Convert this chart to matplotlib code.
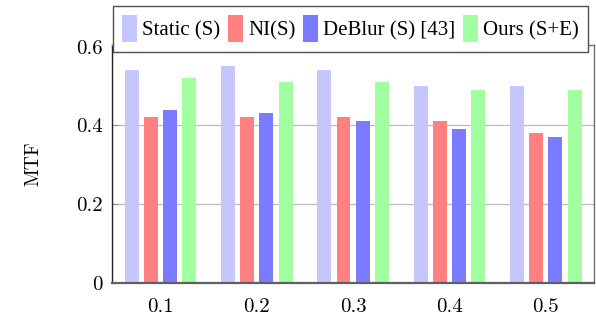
import matplotlib
matplotlib.use("Agg")
import matplotlib.pyplot as plt
import numpy as np

# Blur levels on the x axis and MTF per method
blur_levels = [0.1, 0.2, 0.3, 0.4, 0.5]
tick_labels = ["0.1", "0.2", "0.3", "0.4", "0.5"]
static_s = [0.54, 0.55, 0.54, 0.50, 0.50]
ni_s = [0.42, 0.42, 0.42, 0.41, 0.38]
deblur_s = [0.44, 0.43, 0.41, 0.39, 0.37]
ours_se = [0.52, 0.51, 0.51, 0.49, 0.49]

series_names = ["Static (S)", "NI(S)", "DeBlur (S) [43]", "Ours (S+E)"]
series_values = [static_s, ni_s, deblur_s, ours_se]
series_colors = ["#c6c6ff", "#ff8080", "#7b7bff", "#a2ffa0"]

plt.rcParams["font.family"] = ["cmr10", "DejaVu Serif"]
plt.rcParams["axes.formatter.use_mathtext"] = True

fig = plt.figure(figsize=(5.96, 3.24), dpi=100)
ax = fig.add_axes([0.1884, 0.1275, 0.9966 - 0.1884, (324 - 45) / 324 - 0.1275])

x = np.array(blur_levels)
step = 0.02
width = 0.0145
handles = []
for i, (name, vals, col) in enumerate(zip(series_names, series_values, series_colors)):
    h = ax.bar(x + (i - 1.5) * step, vals, width=width, color=col,
               edgecolor="none", label=name, zorder=2)
    handles.append(h)

ax.set_xlim(0.05, 0.55)
ax.set_ylim(0, 0.604)
ax.set_xticks(blur_levels)
ax.set_xticklabels(tick_labels)
ax.set_yticks([0, 0.2, 0.4, 0.6])
ax.set_yticklabels(["0", "0.2", "0.4", "0.6"])
ax.tick_params(axis="x", length=0, pad=11, labelsize=15)
ax.tick_params(axis="y", direction="in", length=4, width=0.6, color="#808080",
               pad=7, labelsize=15)
ax.yaxis.grid(True, color="#bdbdbd", linewidth=0.9, zorder=0)
gl = ax.yaxis.get_gridlines()
gl[0].set_visible(False)
gl[-1].set_visible(False)
ax.set_axisbelow(True)

for side in ["top", "right"]:
    ax.spines[side].set_color("#707070")
    ax.spines[side].set_linewidth(1.0)
ax.spines["left"].set_color("#202020")
ax.spines["left"].set_linewidth(1.0)
ax.spines["bottom"].set_color("#606060")
ax.spines["bottom"].set_linewidth(1.6)

ax.set_ylabel("MTF", fontsize=14, labelpad=24)

leg = fig.legend(handles=handles, labels=series_names, loc="upper left",
                 bbox_to_anchor=(112.7 / 596, 1 - 6 / 324), ncol=4,
                 frameon=True, fancybox=False, framealpha=1,
                 edgecolor="#505050", handlelength=0.72, handleheight=1.6,
                 handletextpad=0.25, columnspacing=0.36, borderpad=0.45,
                 borderaxespad=0, prop={"family": ["Liberation Serif", "DejaVu Serif"], "size": 15})
leg.get_frame().set_linewidth(1.0)

fig.savefig("out.png", dpi=100)
